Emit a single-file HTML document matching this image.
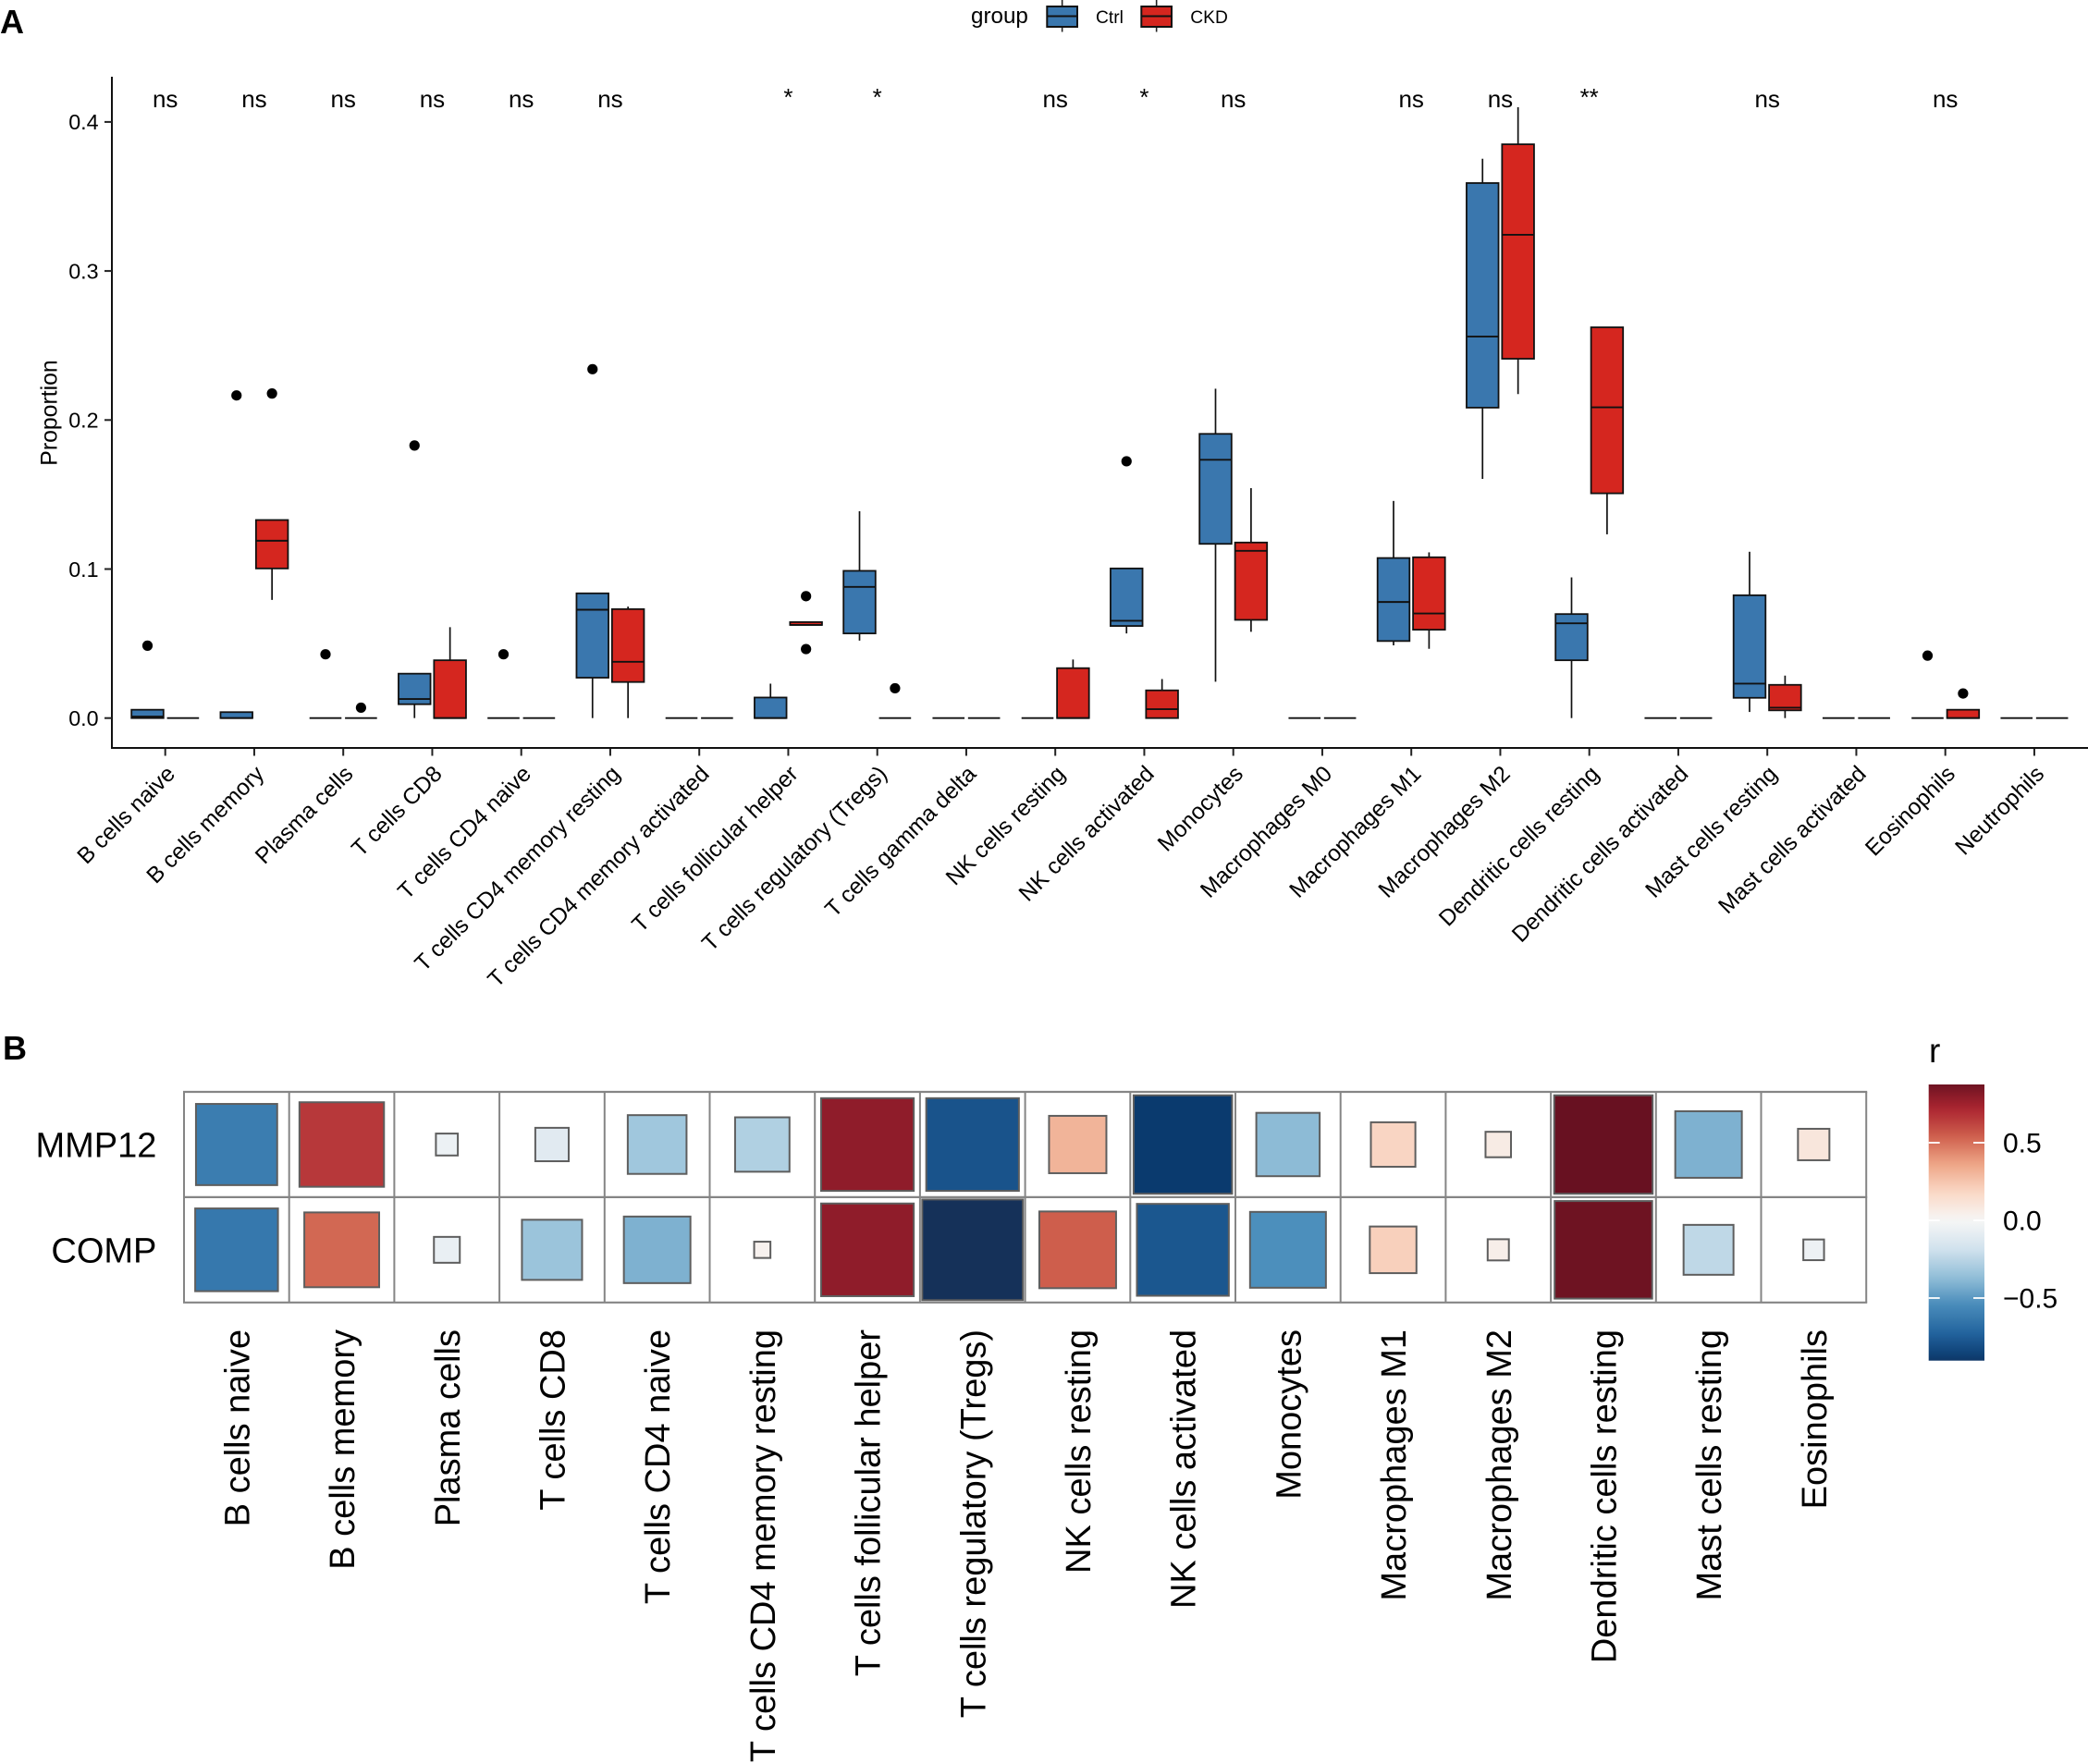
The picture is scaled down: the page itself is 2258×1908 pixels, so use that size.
<!DOCTYPE html>
<html lang="en">
<head>
<meta charset="utf-8">
<title>Immune cell proportions and correlation heatmap</title>
<style>
html,body{margin:0;padding:0;background:#fff;}
svg{display:block;font-family:"Liberation Sans",Arial,sans-serif;}
</style>
</head>
<body>
<svg id="figure" xmlns="http://www.w3.org/2000/svg" width="2258" height="1908" viewBox="0 0 2258 1908">
<rect x="0" y="0" width="2258" height="1908" fill="#ffffff"/>
<text x="0" y="36" font-size="36" font-weight="bold">A</text>
<text x="3" y="1146" font-size="36" font-weight="bold">B</text>
<g id="boxplot"></g>
<g id="heatmap"></g>
</svg>
<script>
/* ---------- Panel A data ---------- */
const boxCategories = ["B cells naive","B cells memory","Plasma cells","T cells CD8","T cells CD4 naive","T cells CD4 memory resting","T cells CD4 memory activated","T cells follicular helper","T cells regulatory (Tregs)","T cells gamma delta","NK cells resting","NK cells activated","Monocytes","Macrophages M0","Macrophages M1","Macrophages M2","Dendritic cells resting","Dendritic cells activated","Mast cells resting","Mast cells activated","Eosinophils","Neutrophils"];
const sigLabels = ["ns","ns","ns","ns","ns","ns","","*","*","","ns","*","ns","","ns","ns","**","","ns","","ns",""];
const yTicks = [0,0.1,0.2,0.3,0.4];
const yTickLabels = ["0.0","0.1","0.2","0.3","0.4"];
const groupNames = ["Ctrl","CKD"];
const ctrlLow  = [0,0,0,0,0,0,0,0,0.052,0,0,0.0568,0.0244,0,0.0488,0.1605,0,0,0.0041,0,0,0];
const ctrlQ1   = [0,0,0,0.0093,0,0.0271,0,0,0.0568,0,0,0.0618,0.1169,0,0.0517,0.2083,0.0388,0,0.0136,0,0,0];
const ctrlMed  = [0.001,0,0,0.0128,0,0.0727,0,0,0.088,0,0,0.0653,0.1733,0,0.0779,0.256,0.0636,0,0.0231,0,0,0];
const ctrlQ3   = [0.0056,0.004,0,0.0298,0,0.0837,0,0.0138,0.0988,0,0,0.1004,0.1907,0,0.1074,0.359,0.0698,0,0.0824,0,0,0];
const ctrlHigh = [0.0056,0.004,0,0.0298,0,0.0837,0,0.0231,0.1388,0,0,0.1004,0.221,0,0.1457,0.3753,0.0944,0,0.1116,0,0,0];
const ckdLow   = [0,0.0793,0,0,0,0,0,0.0625,0,0,0,0,0.0579,0,0.0465,0.2174,0.1233,0,0,0,0,0];
const ckdQ1    = [0,0.1004,0,0,0,0.0242,0,0.0625,0,0,0,0,0.0659,0,0.0593,0.2411,0.1508,0,0.0052,0,0,0];
const ckdMed   = [0,0.119,0,0,0,0.0378,0,0.0625,0,0,0,0.006,0.1122,0,0.0702,0.3243,0.2085,0,0.007,0,0,0];
const ckdQ3    = [0,0.1329,0,0.0388,0,0.0731,0,0.0644,0,0,0.0335,0.0186,0.1178,0,0.1079,0.385,0.2622,0,0.0223,0,0.0056,0];
const ckdHigh  = [0,0.1329,0,0.061,0,0.0748,0,0.0644,0,0,0.0393,0.0262,0.1543,0,0.1112,0.4099,0.2622,0,0.0285,0,0.0056,0];
const ctrlOutliers = [[0.0486],[0.2165],[0.0428],[0.1829],[0.0428],[0.2341],[],[],[],[],[],[0.1723],[],[],[],[],[],[],[],[],[0.0419],[]];
const ckdOutliers  = [[],[0.2178],[0.007],[],[],[],[],[0.0818,0.0463],[0.02],[],[],[],[],[],[],[],[],[],[],[],[0.0165],[]];

/* ---------- Panel B data ---------- */
const heatCategories = ["B cells naive","B cells memory","Plasma cells","T cells CD8","T cells CD4 naive","T cells CD4 memory resting","T cells follicular helper","T cells regulatory (Tregs)","NK cells resting","NK cells activated","Monocytes","Macrophages M1","Macrophages M2","Dendritic cells resting","Mast cells resting","Eosinophils"];
const heatRows = ["MMP12","COMP"];
const mmp12R = [-0.61,0.66,-0.05,-0.11,-0.325,-0.28,0.79,-0.79,0.31,-0.89,-0.376,0.19,0.066,0.89,-0.414,0.098];
const compR  = [-0.633,0.52,-0.068,-0.34,-0.414,0.029,0.79,-0.93,0.546,-0.777,-0.534,0.208,0.047,0.874,-0.237,-0.045];
const colorTicks = [0.5,0,-0.5];
const colorTickLabels = ["0.5","0.0","\u22120.5"];
const colorDomain = [-0.903,0.875];
const rampValues = [-0.93,-0.89,-0.72,-0.54,-0.36,-0.18,0,0.18,0.36,0.54,0.72,0.9];
const rampColors = ["#153159","#0a3a6e","#24659F","#4A8DBB","#94C0D9","#D3E3EE","#F6F6F6","#FAD8C6","#EEA687","#CF604D","#AB2430","#641020"];

const NS = "http://www.w3.org/2000/svg";
function mk(parent, tag, attrs, txt){
  const el = document.createElementNS(NS, tag);
  for (const k in attrs) el.setAttribute(k, attrs[k]);
  if (txt !== undefined) el.textContent = txt;
  parent.appendChild(el);
  return el;
}
function slug(s){ return s.toLowerCase().replace(/[^a-z0-9]+/g,'-').replace(/^-|-$/g,''); }

/* ---------- Panel A axes ---------- */
const yZero = 776.7, yPerUnit = 1612;
function yScale(v){ return yZero - yPerUnit * v; }
const xFirst = 178.7, xStep = 96.25;
function xScale(i){ return xFirst + xStep * i; }
const dodge = 19.2, boxW = 34.6;
const groupFill = ["#3A77AE","#D5261F"];

const A = document.getElementById('boxplot');

function drawBox(i, g, low, q1, med, q3, high, outs){
  const cx = xScale(i) + (g === 0 ? -dodge : dodge);
  const box = mk(A, 'g', {});
  
  
  mk(box,'line',{x1:cx,x2:cx,y1:yScale(high),y2:yScale(q3),stroke:'#111','stroke-width':1.7});
  mk(box,'line',{x1:cx,x2:cx,y1:yScale(q1),y2:yScale(low),stroke:'#111','stroke-width':1.7});
  mk(box,'rect',{x:cx-boxW/2,y:yScale(q3),width:boxW,height:Math.max(0,yScale(q1)-yScale(q3)),fill:groupFill[g],stroke:'#111','stroke-width':1.8});
  mk(box,'line',{x1:cx-boxW/2,x2:cx+boxW/2,y1:yScale(med),y2:yScale(med),stroke:'#111','stroke-width':1.9});
  outs.forEach(function(v){
    const dot = mk(box,'circle',{cx:cx,cy:yScale(v),r:5.6,fill:'#000'});
    
    
  });
}

boxCategories.forEach(function(name,i){
  drawBox(i,0,ctrlLow[i],ctrlQ1[i],ctrlMed[i],ctrlQ3[i],ctrlHigh[i],ctrlOutliers[i]);
  drawBox(i,1,ckdLow[i],ckdQ1[i],ckdMed[i],ckdQ3[i],ckdHigh[i],ckdOutliers[i]);
  const tick = mk(A,'line',{x1:xScale(i),x2:xScale(i),y1:809,y2:817.5,stroke:'#222','stroke-width':2});
  
  
  const tx = xScale(i) + 12, ty = 838.5;
  const lab = mk(A,'text',{transform:'translate('+tx+','+ty+') rotate(-45)','text-anchor':'end','font-size':24.5,fill:'#000'},name);
  
  
  if (sigLabels[i]) {
    const sigY = sigLabels[i] === 'ns' ? 116 : 114;
    const s = mk(A,'text',{x:xScale(i),y:sigY,'text-anchor':'middle','font-size':26,fill:'#000'},sigLabels[i]);
    
    
  }
});

const yAxis = mk(A,'line',{x1:121,x2:121,y1:83,y2:810,stroke:'#111','stroke-width':2});


const xAxis = mk(A,'line',{x1:120,x2:2258,y1:809,y2:809,stroke:'#111','stroke-width':2});



yTicks.forEach(function(v,i){
  const t = mk(A,'line',{x1:113,x2:121,y1:yScale(v),y2:yScale(v),stroke:'#222','stroke-width':2});
  
  
  const l = mk(A,'text',{x:106.6,y:yScale(v)+8.3,'text-anchor':'end','font-size':23.3,fill:'#000'},yTickLabels[i]);
  
  
});

const yTitle = mk(A,'text',{transform:'translate(61.5,446.5) rotate(-90)','text-anchor':'middle','font-size':24.8,fill:'#000'},'Proportion');



/* legend */
const legTitle = mk(A,'text',{x:1050,y:25,'font-size':24.2,fill:'#000'},'group');


const legendX = [1132.3,1234.3];
const legendTextX = [1185,1287.3];
groupNames.forEach(function(n,g){
  const e = mk(A,'g',{});
  
  
  const x = legendX[g], w = 32.7, c = x + w/2;
  mk(e,'line',{x1:c,x2:c,y1:0,y2:34.5,stroke:'#222','stroke-width':1.6});
  mk(e,'rect',{x:x,y:7,width:w,height:22,fill:groupFill[g],stroke:'#111','stroke-width':2});
  mk(e,'line',{x1:x,x2:x+w,y1:17.5,y2:17.5,stroke:'#111','stroke-width':2});
  mk(e,'text',{x:legendTextX[g],y:25,'font-size':19.2,fill:'#000'},n);
});

/* ---------- Panel B ---------- */
const B = document.getElementById('heatmap');
const heatLeft = 199, cellW = 113.7, heatTop = 1181, cellH = 113.9, sideK = 115;
function colX(i){ return heatLeft + cellW * i; }
function rowY(j){ return heatTop + cellH * j; }
function hex(c){ return [parseInt(c.substr(1,2),16),parseInt(c.substr(3,2),16),parseInt(c.substr(5,2),16)]; }
function rColor(r){
  if (r <= rampValues[0]) return rampColors[0];
  for (let k = 1; k < rampValues.length; k++) {
    if (r <= rampValues[k]) {
      const f = (r - rampValues[k-1]) / (rampValues[k] - rampValues[k-1]);
      const a = hex(rampColors[k-1]), b = hex(rampColors[k]);
      return 'rgb(' + a.map(function(u,q){ return Math.round(u + (b[q]-u)*f); }).join(',') + ')';
    }
  }
  return rampColors[rampColors.length-1];
}
function squareSide(r){ return sideK * Math.sqrt(Math.abs(r)) - 2; }

const heatValues = [mmp12R, compR];
for (let i = 0; i <= heatCategories.length; i++) {
  const gl = mk(B,'line',{x1:colX(i),x2:colX(i),y1:rowY(0),y2:rowY(2),stroke:'#858585','stroke-width':2});
  
  
}
for (let j = 0; j <= heatRows.length; j++) {
  const gl = mk(B,'line',{x1:colX(0)-1,x2:colX(heatCategories.length)+1,y1:rowY(j),y2:rowY(j),stroke:'#858585','stroke-width':2.2});
  
  
}
heatRows.forEach(function(rowName,j){
  heatCategories.forEach(function(cat,i){
    const r = heatValues[j][i], s = squareSide(r);
    const cx = colX(i) + cellW/2, cy = rowY(j) + cellH/2;
    const sq = mk(B,'rect',{x:cx-s/2,y:cy-s/2,width:s,height:s,fill:rColor(r),stroke:'#5e5e5e','stroke-width':2});
    
    
  });
  const rl = mk(B,'text',{x:169.4,y:rowY(j)+70.5,'text-anchor':'end','font-size':38,fill:'#000'},rowName);
  
  
});
heatCategories.forEach(function(cat,i){
  const tx = colX(i) + cellW/2 + 13.5;
  const l = mk(B,'text',{transform:'translate('+tx+',1438) rotate(-90)','text-anchor':'end','font-size':38,fill:'#000'},cat);
  
  
});

/* colour bar */
const barX = 2085.7, barW = 60.3, barZero = 1320, barPerUnit = 168;
function barY(r){ return barZero - barPerUnit * r; }
const defs = mk(B,'defs',{});
const grad = mk(defs,'linearGradient',{id:'rGradient',x1:0,x2:0,y1:0,y2:1});
for (let k = 0; k <= 40; k++) {
  const r = colorDomain[1] - (colorDomain[1]-colorDomain[0]) * k / 40;
  mk(grad,'stop',{offset:(k/40),'stop-color':rColor(r)});
}
const bar = mk(B,'rect',{x:barX,y:barY(colorDomain[1]),width:barW,height:barY(colorDomain[0])-barY(colorDomain[1]),fill:'url(#rGradient)'});


colorTicks.forEach(function(v,i){
  const y = barY(v);
  const t1 = mk(B,'line',{x1:barX,x2:barX+12,y1:y,y2:y,stroke:'#fff','stroke-width':1.8});
  
  
  const t2 = mk(B,'line',{x1:barX+barW-12,x2:barX+barW,y1:y,y2:y,stroke:'#fff','stroke-width':1.8});
  
  
  const l = mk(B,'text',{x:2166,y:y+10.7,'font-size':30,fill:'#000'},colorTickLabels[i]);
  
  
});
const barTitle = mk(B,'text',{x:2086,y:1149,'font-size':37,fill:'#000'},'r');


</script>
</body>
</html>
